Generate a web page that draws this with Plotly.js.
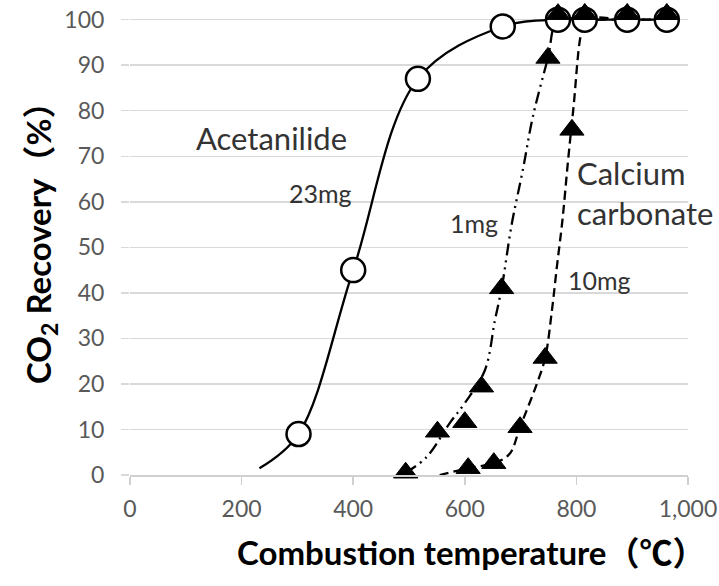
<!DOCTYPE html>
<html>
<head>
<meta charset="utf-8">
<script src="https://cdn.plot.ly/plotly-3.0.1.min.js"></script>
<style>
  html, body { margin: 0; padding: 0; background: #ffffff; }
  #chart { width: 719px; height: 586px; }
</style>
</head>
<body>
<div id="chart"></div>
<script>
// Combustion temperature (°C) vs CO2 recovery (%)

// Acetanilide 23 mg: measured points
const acetanilideTemp = [302, 400, 516, 668, 767, 815, 891, 962];
const acetanilideRecovery = [9, 45, 87, 98.5, 100, 100, 100, 100];
// Acetanilide: smoothed trend curve
const acetanilideCurveTemp = [232, 302, 400, 516, 668, 767, 815, 891, 962];
const acetanilideCurveRecovery = [1.5, 9, 45, 87, 98.5, 100, 100, 100, 100];

// Calcium carbonate 1 mg: measured points
const caco3Small1mgTemp = [494, 551, 600, 630, 666, 749, 767, 815, 891, 962];
const caco3Small1mgRecovery = [0.5, 9.5, 11.6, 19.4, 41, 91.6, 101.2, 101.2, 101.2, 101.2];
// Calcium carbonate 1 mg: trend curve
const caco3Small1mgCurveTemp = [494, 532, 573, 600, 636, 654, 666, 684, 704, 722, 749, 767, 815, 891, 962];
const caco3Small1mgCurveRecovery = [0.5, 4, 11.4, 15.8, 23, 34, 41, 55, 67, 78.7, 91.6, 100, 100, 100, 100];

// Calcium carbonate 10 mg: measured points
const caco3Large10mgTemp = [606, 652, 699, 744, 792, 815, 891, 962];
const caco3Large10mgRecovery = [1.5, 2.6, 10.5, 25.7, 75.8, 101.2, 101.2, 101.2];
// Calcium carbonate 10 mg: trend curve
const caco3Large10mgCurveTemp = [555, 606, 652, 680, 699, 729, 744, 756, 765, 775, 785, 795, 808, 817, 891, 962];
const caco3Large10mgCurveRecovery = [0, 1.5, 2.6, 4.6, 10.5, 20, 25.7, 36, 45.7, 56, 69, 81, 96.7, 100, 100, 100];

// Axis ticks
const xTickValues = [0, 200, 400, 600, 800, 1000];
const xTickLabels = ['0', '200', '400', '600', '800', '1,000'];
const yTickValues = [0, 10, 20, 30, 40, 50, 60, 70, 80, 90, 100];

// Axis titles
const xTitle = 'Combustion temperature（℃）';
const yTitle = 'CO<sub>2</sub> Recovery（%）';

const FONT = 'Lato, "Noto Sans CJK JP", sans-serif';

const curveStyle = (dash) => ({
  color: '#000000', width: 2.3, dash: dash, shape: 'spline', smoothing: 1
});

const traces = [
  {
    x: acetanilideCurveTemp, y: acetanilideCurveRecovery,
    type: 'scatter', mode: 'lines', line: curveStyle('solid'),
    cliponaxis: false, hoverinfo: 'skip'
  },
  {
    x: caco3Small1mgCurveTemp, y: caco3Small1mgCurveRecovery,
    type: 'scatter', mode: 'lines', line: curveStyle('12px,5px,2px,5px,2px,5px'),
    cliponaxis: false, hoverinfo: 'skip'
  },
  {
    x: caco3Large10mgCurveTemp, y: caco3Large10mgCurveRecovery,
    type: 'scatter', mode: 'lines', line: curveStyle('9px,5px'),
    cliponaxis: false, hoverinfo: 'skip'
  },
  {
    x: acetanilideTemp, y: acetanilideRecovery,
    type: 'scatter', mode: 'markers', cliponaxis: false,
    marker: { symbol: 'circle', size: 24, color: '#ffffff', line: { color: '#000000', width: 2.5 } }
  },
  {
    x: caco3Small1mgTemp, y: caco3Small1mgRecovery,
    type: 'scatter', mode: 'markers', cliponaxis: false,
    marker: { symbol: 'triangle-up', size: 21, color: '#000000', line: { color: '#000000', width: 1 } }
  },
  {
    x: caco3Large10mgTemp, y: caco3Large10mgRecovery,
    type: 'scatter', mode: 'markers', cliponaxis: false,
    marker: { symbol: 'triangle-up', size: 21, color: '#000000', line: { color: '#000000', width: 1 } }
  }
];

const labelFont = { family: FONT, size: 31, color: '#333333' };
const smallFont = { family: FONT, size: 25, color: '#333333' };
const titleFont = { family: FONT, size: 33, color: '#000000', weight: 'bold' };

const layout = {
  width: 719,
  height: 586,
  paper_bgcolor: '#ffffff',
  plot_bgcolor: '#ffffff',
  showlegend: false,
  margin: { l: 130, r: 31, t: 6, b: 111 },
  font: { family: FONT },
  xaxis: {
    range: [0, 1000],
    tickvals: xTickValues,
    ticktext: xTickLabels,
    tickfont: { family: FONT, size: 23, color: '#595959' },
    ticklabeloverflow: 'allow',
    showgrid: false,
    zeroline: false,
    showline: true,
    linecolor: '#d0d0d0',
    linewidth: 1.5,
    ticks: 'outside',
    ticklen: 8,
    tickcolor: '#d0d0d0',
    tickwidth: 1.5,
    ticklabelstandoff: 5
  },
  yaxis: {
    range: [0, 103],
    tickvals: yTickValues,
    tickfont: { family: FONT, size: 23, color: '#595959' },
    showgrid: true,
    gridcolor: '#d9d9d9',
    gridwidth: 1.5,
    zeroline: false,
    showline: false,
    ticks: 'outside',
    ticklen: 8,
    tickcolor: '#d9d9d9',
    tickwidth: 1.5,
    ticklabelstandoff: 12
  },
  annotations: [
    { x: 471, y: 552, xref: 'paper', yref: 'paper', text: xTitle, showarrow: false,
      font: titleFont, xanchor: 'center', yanchor: 'middle' },
    { x: 40, y: 235, xref: 'paper', yref: 'paper', text: yTitle, showarrow: false,
      font: titleFont, textangle: -90, xanchor: 'center', yanchor: 'middle' },
    { x: 254, y: 74, xref: 'x', yref: 'y', text: 'Acetanilide', showarrow: false, font: labelFont },
    { x: 342, y: 62, xref: 'x', yref: 'y', text: '23mg', showarrow: false, font: smallFont },
    { x: 616, y: 55.4, xref: 'x', yref: 'y', text: '1mg', showarrow: false, font: smallFont },
    { x: 842, y: 42.9, xref: 'x', yref: 'y', text: '10mg', showarrow: false, font: smallFont },
    { x: 797, y: 62, xref: 'x', yref: 'y', xanchor: 'left', align: 'left',
      text: 'Calcium<br>carbonate', showarrow: false, font: labelFont }
  ]
};

// Axis-title annotations are positioned in pixels; convert to paper fractions.
const plotW = layout.width - layout.margin.l - layout.margin.r;
const plotH = layout.height - layout.margin.t - layout.margin.b;
layout.annotations.slice(0, 2).forEach(a => {
  a.x = (a.x - layout.margin.l) / plotW;
  a.y = 1 - (a.y - layout.margin.t) / plotH;
});

Plotly.newPlot('chart', traces, layout, { displayModeBar: false, staticPlot: true });
</script>
</body>
</html>
